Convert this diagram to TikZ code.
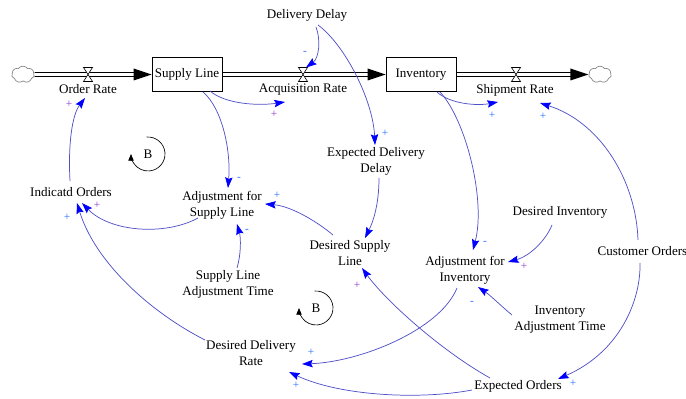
\documentclass[tikz,border=0pt]{standalone}
\usepackage{fontspec}
\setmainfont{Liberation Serif}
\usetikzlibrary{arrows.meta,shapes.symbols}
\definecolor{linkc}{RGB}{80,80,200}
\definecolor{tipc}{RGB}{0,0,255}
\definecolor{polb}{RGB}{40,110,255}
\definecolor{polp}{RGB}{140,60,210}
\newcommand\flowhead[1]{\fill ([shift={(-18,-6)}]#1) -- (#1) -- ([shift={(-18,6)}]#1) -- cycle;}
\begin{document}
\begin{tikzpicture}[x=0.75pt,y=-0.75pt,
  lbl/.style={font=\fontsize{9.8}{12}\selectfont, align=center, inner sep=1pt},
  stock/.style={draw, line width=0.6pt, minimum width=52.5pt, minimum height=25.5pt, font=\fontsize{9.8}{12}\selectfont, inner sep=0pt},
  cloudst/.style={cloud, draw=gray, line width=0.5pt, cloud puffs=7, cloud puff arc=110, aspect=1.3, minimum width=17pt, minimum height=12.5pt, inner sep=0pt},
  link/.style={draw=linkc, line width=0.55pt, -{Stealth[length=8pt,width=5.5pt,inset=1.2pt,color=tipc]}},
  pol/.style={font=\fontsize{8.5}{8.5}\selectfont, inner sep=0pt},
  pipe/.style={line width=0.6pt},
  loopc/.style={line width=0.5pt, -{Triangle[length=5pt,width=4pt]}},
  valve/.pic={\draw[fill=white,line width=0.45pt] (-4.5,-7) -- (4.5,-7) -- (-4.5,7) -- (4.5,7) -- cycle;}
]
\useasboundingbox (0,0) rectangle (686,399);

% stocks and clouds
\node[stock] (sl) at (187,74.5) {Supply Line};
\node[stock] (inv) at (421,74.5) {Inventory};
\node[cloudst] (cl1) at (23,74.5) {};
\node[cloudst] (cl2) at (600,74.5) {};
\coordinate (vor) at (88,74.5);
\coordinate (vacq) at (303,74.5);
\coordinate (vship) at (516,74.5);

% pipes
\foreach \d in {-2,2} {
  \draw[pipe] ([shift={(0,\d)}]cl1.east) -- ([shift={(-17,\d)}]sl.west);
  \draw[pipe] ([shift={(0,\d)}]sl.east) -- ([shift={(-17,\d)}]inv.west);
  \draw[pipe] ([shift={(0,\d)}]inv.east) -- ([shift={(-17,\d)}]cl2.west);
}
\flowhead{sl.west}
\flowhead{inv.west}
\flowhead{cl2.west}
\pic at (vor) {valve};
\pic at (vacq) {valve};
\pic at (vship) {valve};

% labels
\node[lbl] (lor) at (88,89) {Order Rate};
\node[lbl] (lacq) at (303,90) {Acquisition Rate};
\node[lbl] (lship) at (515,90) {Shipment Rate};
\node[lbl] (dd) at (307,15) {Delivery Delay};
\node[lbl] (edd) at (376,161) {Expected Delivery\\Delay};
\node[lbl] (io) at (71,192) {Indicatd Orders};
\node[lbl] (asl) at (222,205) {Adjustment for\\Supply Line};
\node[lbl] (dsl) at (350,253) {Desired Supply\\Line};
\node[lbl] (slat) at (228,284) {Supply Line\\Adjustment Time};
\node[lbl] (di) at (560,212) {Desired Inventory};
\node[lbl] (ai) at (465,270) {Adjustment for\\Inventory};
\node[lbl,anchor=west] (co) at (596,251) {Customer Orders};
\node[lbl] (iat) at (560,320) {Inventory\\Adjustment Time};
\node[lbl] (ddr) at (251,353) {Desired Delivery\\Rate};
\node[lbl] (eo) at (518,386) {Expected Orders};

% causal links
\draw[link] ([shift={(9,12)}]dd.center) .. controls (321,40) and (319,58) .. ([shift={(3,-7)}]vacq);
\draw[link] ([shift={(11,10)}]dd.center) .. controls (345,45) and (373,100) .. ([shift={(-1,-16)}]edd.center);
\draw[link] ([shift={(23,16.5)}]sl.center) .. controls (225,104) and (258,106) .. ([shift={(-18,12)}]lacq.center);
\draw[link] ([shift={(16,17.5)}]sl.center) .. controls (222,108) and (231,150) .. ([shift={(6,-17)}]asl.center);
\draw[link] ([shift={(16,17.5)}]inv.center) .. controls (450,104) and (477,106) .. ([shift={(-17,12)}]lship.center);
\draw[link] ([shift={(19,17.5)}]inv.center) .. controls (466,120) and (486,200) .. ([shift={(8,-20)}]ai.center);
\draw[link] ([shift={(42,-11)}]co.west) .. controls (636,180) and (600,122) .. ([shift={(25,13)}]lship.center);
\draw[link] ([shift={(44,12)}]co.west) .. controls (641,300) and (620,352) .. ([shift={(40,-7)}]eo.center);
\draw[link] ([shift={(-8,13)}]di.center) .. controls (546,240) and (530,256) .. ([shift={(43,-8)}]ai.center);
\draw[link] ([shift={(-48,-5)}]iat.center) .. controls (500,305) and (490,295) .. ([shift={(13,17)}]ai.center);
\draw[link] ([shift={(-8,18)}]ai.center) .. controls (440,330) and (360,362) .. ([shift={(51,11)}]ddr.center);
\draw[link] ([shift={(-28,-8)}]eo.center) .. controls (440,350) and (385,300) .. ([shift={(12,15)}]dsl.center);
\draw[link] ([shift={(-46,4)}]eo.center) .. controls (420,400) and (340,396) .. ([shift={(38,19)}]ddr.center);
\draw[link] ([shift={(-46,-13)}]ddr.center) .. controls (150,312) and (95,262) .. ([shift={(6,11)}]io.center);
\draw[link] ([shift={(-24,13)}]asl.center) .. controls (165,236) and (110,232) .. ([shift={(11,11)}]io.center);
\draw[link] ([shift={(-1,-11)}]io.center) .. controls (68,145) and (72,115) .. ([shift={(-3,9)}]lor.center);
\draw[link] ([shift={(3,17)}]edd.center) .. controls (379,205) and (373,222) .. ([shift={(15,-15)}]dsl.center);
\draw[link] ([shift={(-17,-18)}]dsl.center) .. controls (315,220) and (290,206) .. ([shift={(43,-1)}]asl.center);
\draw[link] ([shift={(9,-16)}]slat.center) .. controls (241,255) and (241,238) .. ([shift={(15,19)}]asl.center);

% polarities
\node[pol,text=polp] (p1) at (69,104) {+};
\node[pol,text=polp] (p2) at (274,114) {+};
\node[pol,text=polb] (p3) at (305,53) {-};
\node[pol,text=polb] (p4) at (492,115) {+};
\node[pol,text=polb] (p5) at (543,116) {+};
\node[pol,text=polb] (p6) at (239,179) {-};
\node[pol,text=polb] (p7) at (277,195) {+};
\node[pol,text=polp] (p8) at (97,205) {+};
\node[pol,text=polb] (p9) at (67,217) {+};
\node[pol,text=polb] (p10) at (247,231) {-};
\node[pol,text=polb] (p11) at (385,133) {+};
\node[pol,text=polb] (p12) at (485,243) {-};
\node[pol,text=polp] (p13) at (524,266) {+};
\node[pol,text=polb] (p14) at (472,303) {-};
\node[pol,text=polb] (p15) at (573,383) {+};
\node[pol,text=polp] (p16) at (357,285) {+};
\node[pol,text=polb] (p17) at (311,352) {+};
\node[pol,text=polb] (p18) at (296,385) {+};

% loop markers
\node[lbl] (b1) at (148,154) {B};
\draw[loopc] ([shift={(95:12.75pt)}]b1.center) arc[start angle=95, end angle=-180, radius=12.75pt];
\node[lbl] (b2) at (316,308) {B};
\draw[loopc] ([shift={(95:12.75pt)}]b2.center) arc[start angle=95, end angle=-180, radius=12.75pt];
\end{tikzpicture}
\end{document}
